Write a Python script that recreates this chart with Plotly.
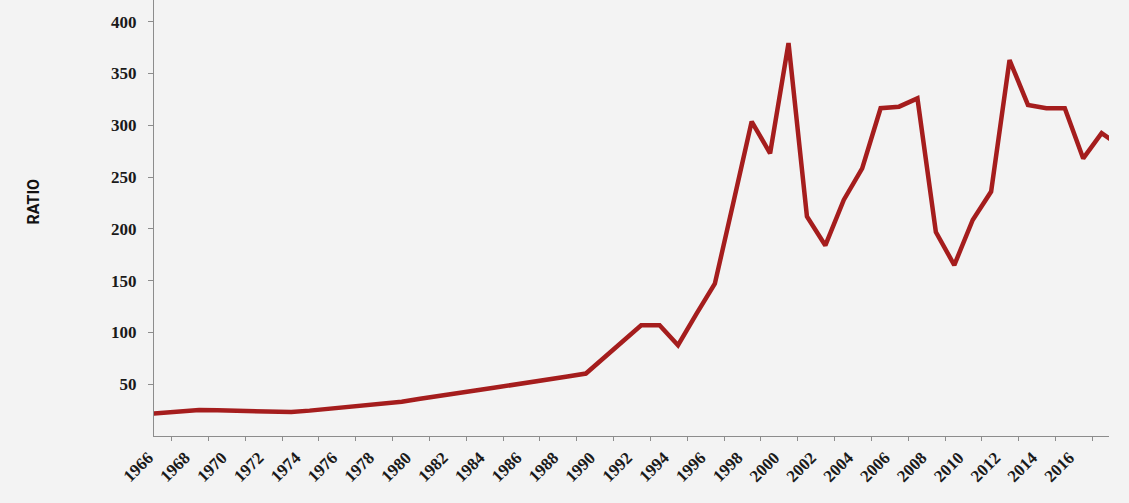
import plotly.graph_objects as go

# 年份与比值
years = list(range(1965, 2019))
ratio = [
    21, 22.5, 23.5, 25, 24.8, 24.5, 24, 23.8, 23.2, 24.5,      # 1965-1974
    26, 27.5, 29, 30.6, 33, 36, 39, 41.5, 44, 46.5,            # 1975-1984
    49, 52, 54.5, 57.5, 60.3, 76, 91, 107, 107, 87.7,          # 1985-1994
    118, 147, 225, 303.6, 273, 379.4, 212, 184, 228, 258.5,    # 1995-2004
    316.5, 318, 326, 197, 165, 208.6, 236, 363, 319.7, 316.5,  # 2005-2014
    316.5, 268, 292.4, 280,                                    # 2015-2018
]

tick_years = list(range(1966, 2019, 2))
tick_text = [str(y) for y in tick_years]
y_ticks = [50, 100, 150, 200, 250, 300, 350, 400]

LINE_RED = "#a51d1d"
BG = "#f3f3f3"
SERIF = "Liberation Serif, DejaVu Serif, serif"


def create_chart():
    fig = go.Figure()
    fig.add_trace(go.Scatter(
        x=years,
        y=ratio,
        mode="lines",
        line=dict(color=LINE_RED, width=4.5),
        hoverinfo="x+y",
        showlegend=False,
    ))

    fig.update_xaxes(
        range=[1965.55, 2017.4],
        tickmode="array",
        tickvals=tick_years,
        ticktext=tick_text,
        tickangle=-45,
        ticks="",
        ticklabelshift=-14,
        ticklabelstandoff=4,
        showline=True,
        linecolor="#8c8c8c",
        linewidth=1,
        showgrid=False,
        zeroline=False,
        tickfont=dict(family=SERIF, size=17, color="#1a1a1a", weight="bold"),
        # 刻度线落在两个年份之间，每两年一个
        minor=dict(
            tickmode="array",
            tickvals=[y + 0.5 for y in tick_years],
            ticks="outside",
            ticklen=4,
            tickcolor="#8c8c8c",
            showgrid=False,
        ),
    )

    fig.update_yaxes(
        range=[0, 421],
        tickmode="array",
        tickvals=y_ticks,
        ticks="outside",
        ticklen=5,
        tickcolor="#8c8c8c",
        ticklabelstandoff=8,
        showline=True,
        linecolor="#8c8c8c",
        linewidth=1,
        showgrid=False,
        zeroline=False,
        tickfont=dict(family=SERIF, size=17, color="#1a1a1a", weight="bold"),
    )

    fig.add_annotation(
        text="RATIO",
        xref="paper", yref="paper",
        x=-0.138, y=0.537,
        textangle=-90,
        showarrow=False,
        font=dict(family="Liberation Sans Narrow, Roboto, sans-serif", size=16,
                  color="#111111", weight="bold"),
    )

    fig.update_layout(
        width=1129,
        height=503,
        margin=dict(l=154, r=20, t=0, b=67),
        paper_bgcolor=BG,
        plot_bgcolor=BG,
    )
    return fig


def main():
    fig = create_chart()
    # 去掉页面默认边距，让图表贴满窗口
    fig.write_html(
        "out.html",
        config={"displayModeBar": False},
        post_script="document.body.style.margin='0';"
                    "document.body.style.background='#f3f3f3';",
    )


if __name__ == "__main__":
    main()
